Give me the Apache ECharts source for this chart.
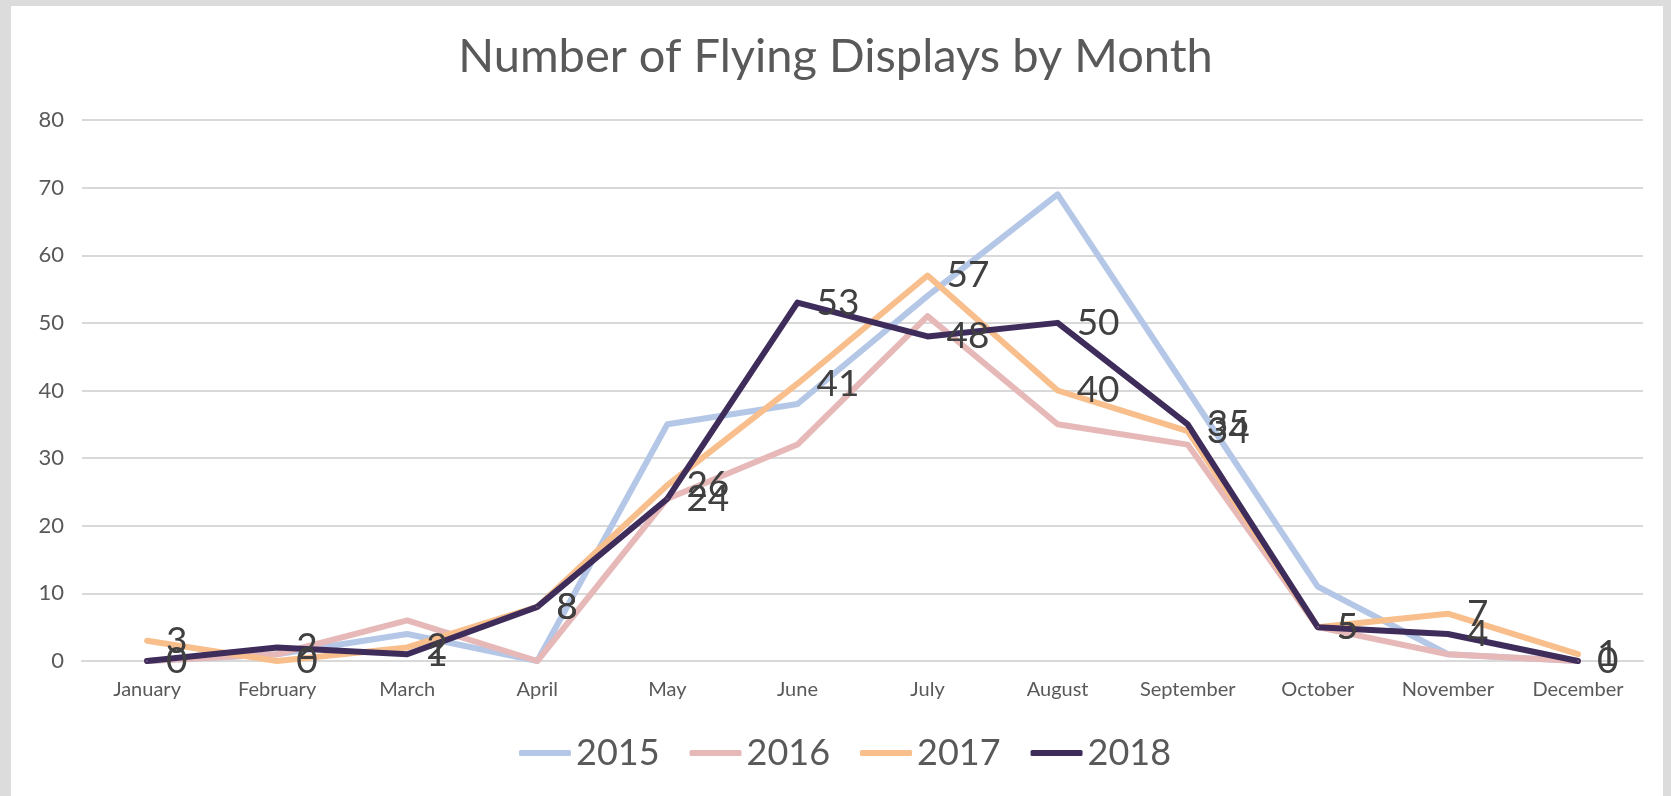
<!DOCTYPE html>
<html>
<head>
<meta charset="utf-8">
<title>Number of Flying Displays by Month</title>
<script src="https://cdn.jsdelivr.net/npm/echarts@6/dist/echarts.min.js"></script>
<style>
  html, body { margin: 0; padding: 0; background: #dcdcdc; }
  #chart { width: 1671px; height: 796px; }
</style>
</head>
<body>
<div id="chart"></div>
<script>
// data
const months = ["January", "February", "March", "April", "May", "June",
  "July", "August", "September", "October", "November", "December"];
const years = ["2015", "2016", "2017", "2018"];
const y2015 = [0, 1, 4, 0, 35, 38, 54, 69, 40, 11, 1, 0];
const y2016 = [0, 1, 6, 0, 24, 32, 51, 35, 32, 5, 1, 0];
const y2017 = [3, 0, 2, 8, 26, 41, 57, 40, 34, 5, 7, 1];
const y2018 = [0, 2, 1, 8, 24, 53, 48, 50, 35, 5, 4, 0];
const yTicks = [0, 10, 20, 30, 40, 50, 60, 70, 80];

const colors = ["#b4c7e7", "#e6b9b8", "#f8bf8c", "#3e2c5b"];
const FONT = "Lato";

function lineSeries(name, data, color, withLabels) {
  return {
    name: name,
    type: "line",
    data: data,
    symbol: "circle",
    symbolSize: 2,
    lineStyle: { color: color, width: 6, cap: "round", join: "round" },
    itemStyle: { color: color },
    label: {
      show: withLabels,
      position: "right",
      distance: 18,
      fontFamily: FONT,
      fontSize: 37,
      color: "#404040"
    },
    labelLayout: { hideOverlap: false },
    emphasis: { disabled: true }
  };
}

let options = {
  backgroundColor: "#dcdcdc",
  animation: false,
  color: colors,
  graphic: [{
    type: "rect",
    z: -10,
    shape: { x: 11, y: 6, width: 1652, height: 790 },
    style: { fill: "#ffffff" },
    silent: true
  }],
  title: {
    text: "Number of Flying Displays by Month",
    left: "center",
    top: 28,
    textStyle: { fontFamily: FONT, fontSize: 47, fontWeight: "normal", color: "#595959" }
  },
  legend: {
    data: years,
    top: 730,
    left: 514,
    icon: "roundRect",
    itemWidth: 52,
    itemHeight: 6,
    itemGap: 30,
    textStyle: { fontFamily: FONT, fontSize: 36, color: "#595959" }
  },
  grid: { left: 82, right: 28, top: 120, bottom: 135 },
  xAxis: {
    type: "category",
    data: months,
    boundaryGap: true,
    axisLine: { show: true, lineStyle: { color: "#d9d9d9", width: 2 } },
    axisTick: { show: false },
    axisLabel: { interval: 0, fontFamily: FONT, fontSize: 20, color: "#595959", margin: 19 }
  },
  yAxis: {
    type: "value",
    min: yTicks[0],
    max: yTicks[yTicks.length - 1],
    interval: 10,
    axisLine: { show: false },
    axisTick: { show: false },
    splitLine: { lineStyle: { color: "#d9d9d9", width: 2 } },
    axisLabel: { fontFamily: FONT, fontSize: 22, color: "#595959", margin: 18 }
  },
  series: [
    lineSeries("2015", y2015, colors[0], false),
    lineSeries("2016", y2016, colors[1], false),
    lineSeries("2017", y2017, colors[2], true),
    lineSeries("2018", y2018, colors[3], true)
  ]
};

let chart = echarts.init(document.getElementById("chart"));
chart.setOption(options);
</script>
</body>
</html>
